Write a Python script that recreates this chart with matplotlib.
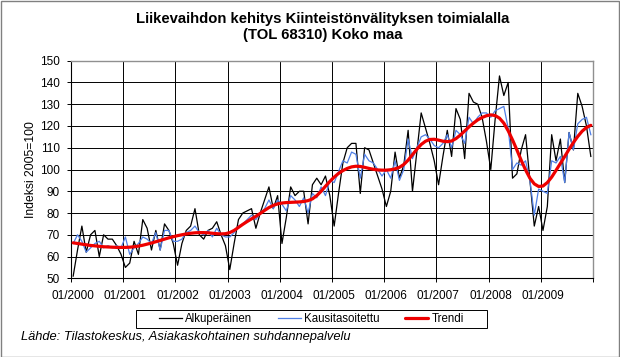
import matplotlib
matplotlib.use("Agg")
import matplotlib.pyplot as plt
import matplotlib.transforms as mtransforms
from matplotlib.patches import Rectangle
import numpy as np

plt.rcParams['font.family'] = ['Liberation Sans', 'DejaVu Sans']

title = "Liikevaihdon kehitys Kiinteistönvälityksen toimialalla\n(TOL 68310) Koko maa"
ylabel = "Indeksi 2005=100"
source = "Lähde: Tilastokeskus, Asiakaskohtainen suhdannepalvelu"
series_names = ["Alkuperäinen", "Kausitasoitettu", "Trendi"]
year_labels = ["01/2000", "01/2001", "01/2002", "01/2003", "01/2004",
               "01/2005", "01/2006", "01/2007", "01/2008", "01/2009"]
start_year = 2000
n_years = 10

alkuperainen = [
    51, 63, 74, 62, 70, 72, 60, 70, 68, 68, 65, 61,
    55, 57, 67, 61, 77, 73, 63, 72, 63, 75, 72, 66,
    56, 66, 72, 74, 82, 70, 68, 72, 73, 76, 70, 65,
    54, 66, 77, 80, 81, 82, 73, 80, 86, 92, 82, 88,
    66, 78, 92, 88, 90, 90, 75, 93, 96, 93, 97, 88,
    74, 89, 103, 110, 112, 112, 89, 110, 109, 103, 97, 91,
    83, 90, 108, 96, 102, 118, 90, 108, 126, 119, 112, 104,
    93, 106, 118, 106, 128, 123, 105, 135, 131, 130, 124, 113,
    100, 123, 143, 134, 140, 96, 98, 109, 116, 95, 74, 83,
    72, 83, 116, 104, 114, 94, 117, 109, 135, 129, 120, 106,
]

kausitasoitettu = [
    66, 70, 67, 62, 64, 66, 67, 64, 65, 64, 65, 64,
    69, 61, 64, 66, 69, 68, 66, 71, 63, 72, 72, 67,
    67, 68, 71, 72, 74, 71, 70, 72, 69, 73, 70, 69,
    69, 71, 74, 75, 77, 79, 77, 80, 82, 86, 82, 86,
    84, 81, 88, 86, 83, 87, 80, 89, 87, 92, 88, 95,
    94, 99, 104, 103, 108, 107, 96, 107, 104, 103, 100, 97,
    100, 96, 104, 95, 100, 114, 105, 110, 115, 116, 114, 111,
    110, 112, 116, 110, 118, 116, 112, 124, 121, 124, 126, 126,
    124, 127, 128, 129, 119, 100, 103, 102, 104, 95, 79, 91,
    90, 89, 104, 103, 106, 94, 117, 109, 121, 123, 124, 116,
]

trendi = [
    66.3, 66.0, 65.7, 65.4, 65.1, 64.9, 64.7, 64.5, 64.4, 64.3, 64.2, 64.2,
    64.2, 64.3, 64.5, 64.8, 65.2, 65.7, 66.2, 66.8, 67.4, 68.0, 68.6, 69.1,
    69.6, 70.0, 70.4, 70.7, 70.9, 71.0, 71.0, 70.9, 70.7, 70.5, 70.4, 70.5,
    71.0, 72.0, 73.4, 74.8, 76.1, 77.3, 78.5, 79.8, 81.2, 82.5, 83.5, 84.2,
    84.6, 84.8, 84.9, 85.0, 85.1, 85.3, 85.7, 86.5, 88.0, 90.0, 92.3, 94.5,
    96.5, 98.2, 99.5, 100.5, 101.2, 101.5, 101.4, 101.0, 100.5, 100.1, 99.8, 99.7,
    99.7, 99.9, 100.3, 101.0, 102.3, 104.3, 106.8, 109.3, 111.5, 113.0, 113.8, 113.9,
    113.5, 113.0, 112.8, 113.1, 114.2, 115.8, 117.7, 119.6, 121.3, 122.8, 123.9, 124.7,
    125.1, 124.8, 123.6, 121.3, 117.8, 113.6, 109.0, 104.2, 99.8, 96.0, 93.4, 92.2,
    92.4, 94.0, 96.5, 99.6, 102.8, 106.0, 109.3, 112.4, 115.2, 117.6, 119.3, 120.3,
]

W, H = 620, 357
fig = plt.figure(figsize=(W / 100, H / 100), dpi=100)
L, R, T, B = 71, 593, 60.7, 278.3
ax = fig.add_axes([L / W, 1 - B / H, (R - L) / W, (B - T) / H])

n = len(alkuperainen)
x = start_year + (np.arange(n) + 0.5) / 12.0

ax.plot(x, alkuperainen, color='black', lw=0.9, label=series_names[0], zorder=3)
ax.plot(x, kausitasoitettu, color='#4f7fe6', lw=0.9, label=series_names[1], zorder=4)
ax.plot(x, trendi, color='#ee0000', lw=2.3, label=series_names[2], zorder=5,
        solid_capstyle='round')

ax.set_xlim(start_year, start_year + n_years)
ax.set_ylim(50, 150)
ax.set_yticks(np.arange(50, 151, 10))
ax.set_xticks(np.arange(start_year, start_year + n_years + 1))
ax.set_xticklabels(year_labels + [""])
ax.grid(True, color='black', lw=0.7)
ax.set_axisbelow(True)

for side in ['top', 'right']:
    ax.spines[side].set_color('#909090')
    ax.spines[side].set_linewidth(1.0)
for side in ['left', 'bottom']:
    ax.spines[side].set_color('black')
    ax.spines[side].set_linewidth(0.8)

ax.tick_params(axis='both', direction='out', length=3, width=0.7, labelsize=8.5,
               colors='black')
ax.tick_params(axis='x', pad=5.5)
ax.tick_params(axis='y', pad=5)
offset = mtransforms.ScaledTranslation(2 / 100, 0, fig.dpi_scale_trans)
for lbl in ax.get_xticklabels():
    lbl.set_transform(lbl.get_transform() + offset)

ax.set_ylabel(ylabel, fontsize=8.7)
ax.yaxis.set_label_coords((37 - L) / (R - L), 0.5)

fig.text(323 / W, 1 - 27 / H, title, ha='center', va='center', fontsize=10.7,
         fontweight='bold', linespacing=1.25)

leg = fig.legend(handles=ax.get_lines(), loc='center',
                 bbox_to_anchor=(311.5 / W, 1 - 319 / H),
                 ncol=3, frameon=False, fontsize=8.3, handlelength=2.0,
                 handletextpad=0.3, columnspacing=2.2, borderpad=0.2)
fig.patches.append(Rectangle((136 / W, 1 - 328.3 / H), (487 - 136) / W, (328.3 - 310) / H,
                             transform=fig.transFigure, fill=False,
                             edgecolor='black', lw=0.7))

fig.text(21 / W, 1 - 337 / H, source, ha='left', va='center', fontsize=9.3,
         style='italic')

fig.patches.append(Rectangle((0.5 / W, 0.5 / H), 1 - 1.5 / W, 1 - 1.5 / H,
                             transform=fig.transFigure, fill=False,
                             edgecolor='#808080', lw=1.0))

fig.savefig("out.png", dpi=100)
